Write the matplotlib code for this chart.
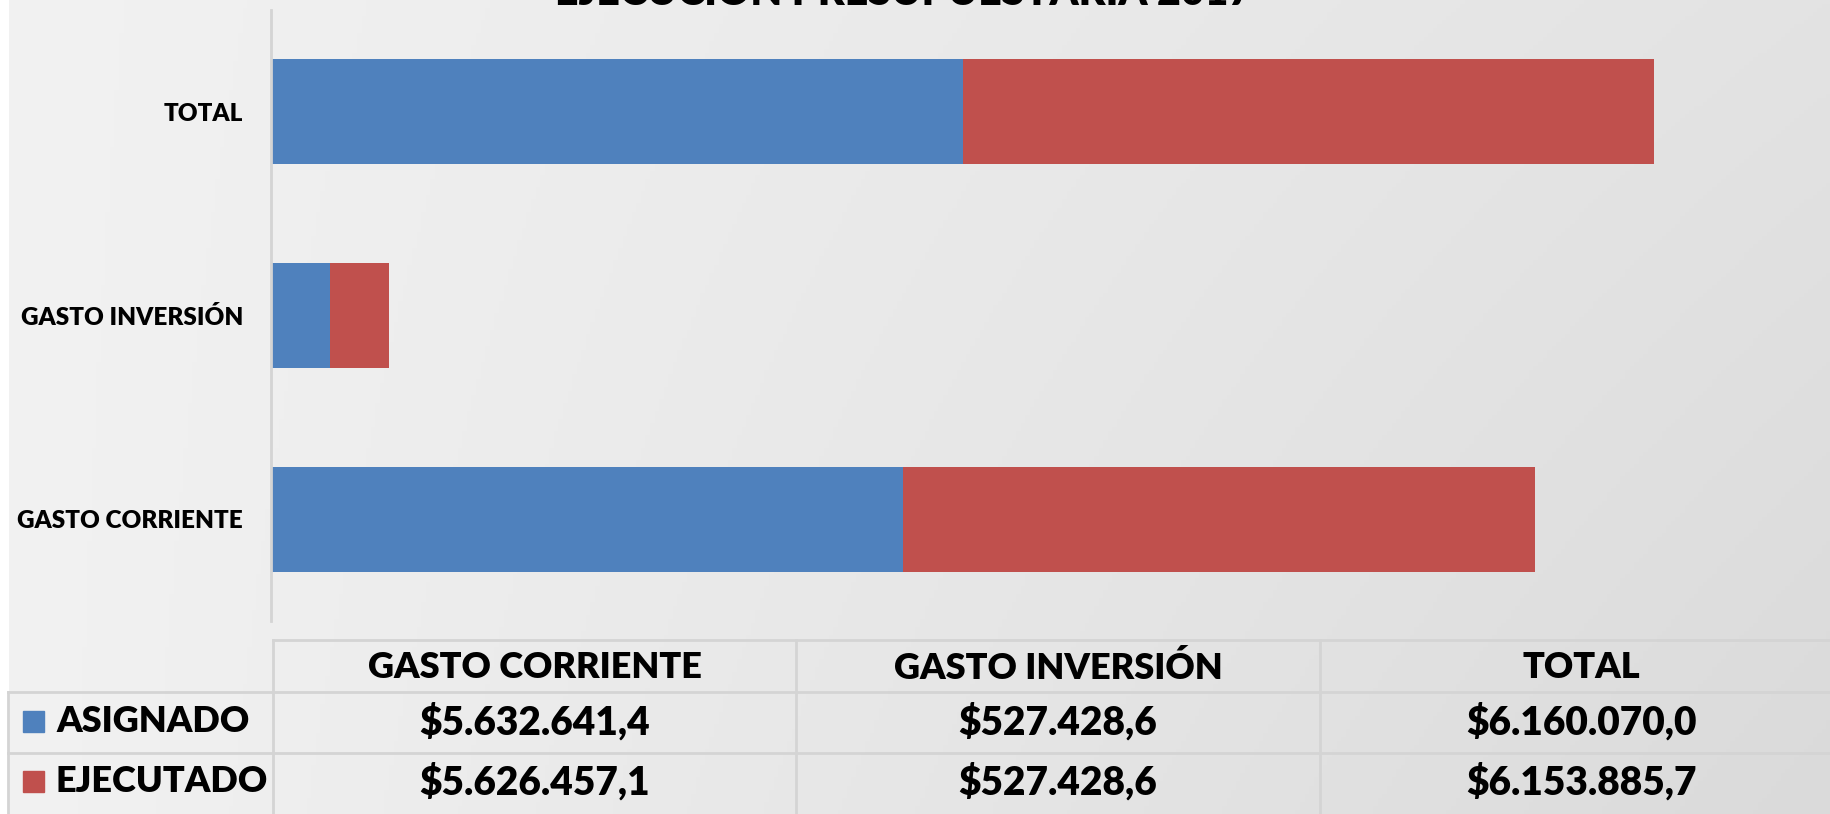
import numpy as np
import matplotlib
matplotlib.use("Agg")
import matplotlib.pyplot as plt

categorias = ["GASTO CORRIENTE", "GASTO INVERSIÓN", "TOTAL"]
asignado = [5632641.4, 527428.6, 6160070.0]
ejecutado = [5626457.1, 527428.6, 6153885.7]
series = ["ASIGNADO", "EJECUTADO"]
titulo = "EJECUCIÓN PRESUPUESTARIA 2017"

azul = "#4f81bd"
rojo = "#c0504d"
linea = "#d4d4d4"

W, H = 1831, 814
plt.rcParams["font.family"] = ["Lato", "DejaVu Sans"]


def pesos(v):
    s = f"{v:,.1f}"
    s = s.replace(",", "X").replace(".", ",").replace("X", ".")
    return "$" + s


fig = plt.figure(figsize=(W / 100, H / 100), dpi=100)

# fondo con degradado gris
bg = fig.add_axes([0, 0, 1, 1])
xx = np.linspace(0, 1, 400)
yy = np.linspace(0, 1, 200)
X, Y = np.meshgrid(xx, yy)
grad = 242 - 24 * X * Y - 15 * X * (1 - Y)
img = np.dstack([grad, grad, grad]) / 255.0
img[:, :2] = 1.0
bg.imshow(img, extent=[0, W, H, 0], aspect="auto", zorder=0)
bg.set_xlim(0, W)
bg.set_ylim(H, 0)
bg.axis("off")

# grafico de barras
ax = fig.add_axes([271 / W, 1 - 621 / H, 1572 / W, 611 / H])
ax.patch.set_alpha(0)
pos = np.arange(len(categorias))
ax.barh(pos, asignado, height=0.515, color=azul)
ax.barh(pos, ejecutado, left=asignado, height=0.515, color=rojo)
ax.set_xlim(0, 14000000)
ax.set_ylim(-0.5, 2.5)
ax.set_yticks(pos)
ax.set_yticklabels(categorias, fontsize=17.5, fontweight="heavy")
ax.tick_params(axis="y", length=0, pad=20)
ax.set_xticks([])
for s in ["top", "right", "bottom"]:
    ax.spines[s].set_visible(False)
ax.spines["left"].set_color(linea)
ax.spines["left"].set_linewidth(2)

bg.text(904, 5, titulo, ha="center", va="baseline", fontsize=29.5, fontweight="heavy")

# tabla de datos
cols = [273, 796, 1320, 1843]
filas = [640, 692, 753, 814]
lw = 2
bg.plot([cols[0], W], [filas[0], filas[0]], color=linea, lw=lw, zorder=2)
for yv in filas[1:3]:
    bg.plot([8, W], [yv, yv], color=linea, lw=lw, zorder=2)
for xv in cols[:3]:
    bg.plot([xv, xv], [filas[0], H], color=linea, lw=lw, zorder=2)
bg.plot([8, 8], [filas[1], H], color=linea, lw=lw, zorder=2)

for i, c in enumerate(categorias):
    xc = (cols[i] + cols[i + 1]) / 2
    bg.text(xc, 668, c, ha="center", va="center", fontsize=26, fontweight="heavy")
    bg.text(xc, 722, pesos(asignado[i]), ha="center", va="center", fontsize=28, fontweight="heavy")
    bg.text(xc, 782, pesos(ejecutado[i]), ha="center", va="center", fontsize=28, fontweight="heavy")

for j, (nombre, color) in enumerate(zip(series, [azul, rojo])):
    yc = [722, 782][j]
    bg.add_patch(plt.Rectangle((23, yc - 11), 21, 21, color=color, zorder=3))
    bg.text(56, yc, nombre, ha="left", va="center", fontsize=26, fontweight="heavy")

fig.savefig("out.png", dpi=100)
